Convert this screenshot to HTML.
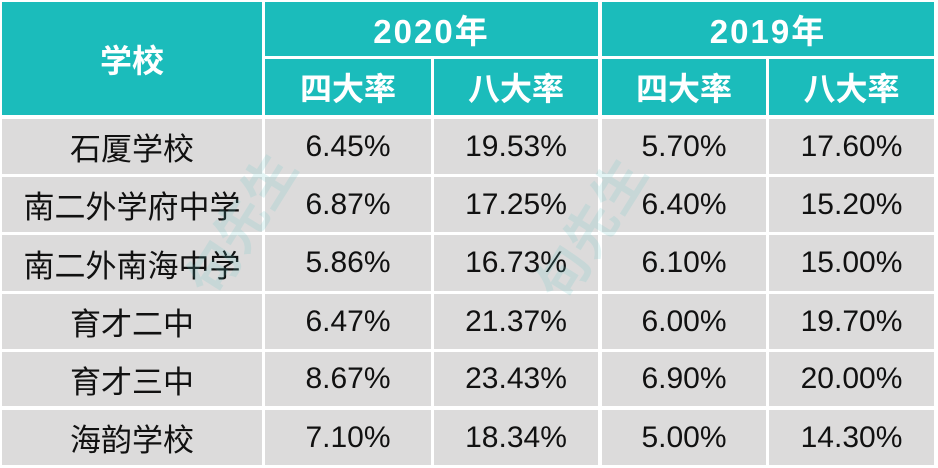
<!DOCTYPE html>
<html>
<head>
<meta charset="utf-8">
<style>
html,body{margin:0;padding:0;background:#fff;}
body{width:938px;height:468px;position:relative;overflow:hidden;font-family:"Liberation Sans","Noto Sans CJK SC",sans-serif;}
.c{position:absolute;display:flex;align-items:center;justify-content:center;box-sizing:border-box;}
.h{background:#1bbcbb;color:#fff;font-weight:bold;font-size:32px;font-family:"Liberation Sans","Noto Sans CJK SC",sans-serif;}
.y{letter-spacing:2px;font-size:33px;}
.d{background:#dcdbdb;color:#111;font-size:30px;}
.n{font-size:31px;}
.wm{position:absolute;color:#5cc8c8;opacity:0.16;font-size:52px;font-weight:bold;transform:rotate(-58deg);font-family:"Noto Sans CJK SC",sans-serif;white-space:nowrap;}
</style>
</head>
<body>
<!-- header -->
<div class="c h" style="left:2px;top:2px;width:260px;height:113px;">学校</div>
<div class="c h y" style="left:265px;top:2px;width:333px;height:54px;">2020年</div>
<div class="c h y" style="left:602px;top:2px;width:332px;height:54px;">2019年</div>
<div class="c h" style="left:265px;top:59px;width:166px;height:56px;">四大率</div>
<div class="c h" style="left:434px;top:59px;width:164px;height:56px;">八大率</div>
<div class="c h" style="left:602px;top:59px;width:164px;height:56px;">四大率</div>
<div class="c h" style="left:769px;top:59px;width:165px;height:56px;">八大率</div>

<!-- row 1 -->
<div class="c d n" style="left:2px;top:119px;width:260px;height:55px;">石厦学校</div>
<div class="c d" style="left:265px;top:119px;width:166px;height:55px;">6.45%</div>
<div class="c d" style="left:434px;top:119px;width:164px;height:55px;">19.53%</div>
<div class="c d" style="left:602px;top:119px;width:164px;height:55px;">5.70%</div>
<div class="c d" style="left:769px;top:119px;width:165px;height:55px;">17.60%</div>
<!-- row 2 -->
<div class="c d n" style="left:2px;top:177px;width:260px;height:55px;">南二外学府中学</div>
<div class="c d" style="left:265px;top:177px;width:166px;height:55px;">6.87%</div>
<div class="c d" style="left:434px;top:177px;width:164px;height:55px;">17.25%</div>
<div class="c d" style="left:602px;top:177px;width:164px;height:55px;">6.40%</div>
<div class="c d" style="left:769px;top:177px;width:165px;height:55px;">15.20%</div>
<!-- row 3 -->
<div class="c d n" style="left:2px;top:235px;width:260px;height:56px;">南二外南海中学</div>
<div class="c d" style="left:265px;top:235px;width:166px;height:56px;">5.86%</div>
<div class="c d" style="left:434px;top:235px;width:164px;height:56px;">16.73%</div>
<div class="c d" style="left:602px;top:235px;width:164px;height:56px;">6.10%</div>
<div class="c d" style="left:769px;top:235px;width:165px;height:56px;">15.00%</div>
<!-- row 4 -->
<div class="c d n" style="left:2px;top:294px;width:260px;height:55px;">育才二中</div>
<div class="c d" style="left:265px;top:294px;width:166px;height:55px;">6.47%</div>
<div class="c d" style="left:434px;top:294px;width:164px;height:55px;">21.37%</div>
<div class="c d" style="left:602px;top:294px;width:164px;height:55px;">6.00%</div>
<div class="c d" style="left:769px;top:294px;width:165px;height:55px;">19.70%</div>
<!-- row 5 -->
<div class="c d n" style="left:2px;top:352px;width:260px;height:54px;">育才三中</div>
<div class="c d" style="left:265px;top:352px;width:166px;height:54px;">8.67%</div>
<div class="c d" style="left:434px;top:352px;width:164px;height:54px;">23.43%</div>
<div class="c d" style="left:602px;top:352px;width:164px;height:54px;">6.90%</div>
<div class="c d" style="left:769px;top:352px;width:165px;height:54px;">20.00%</div>
<!-- row 6 -->
<div class="c d n" style="left:2px;top:410px;width:260px;height:55px;">海韵学校</div>
<div class="c d" style="left:265px;top:410px;width:166px;height:55px;">7.10%</div>
<div class="c d" style="left:434px;top:410px;width:164px;height:55px;">18.34%</div>
<div class="c d" style="left:602px;top:410px;width:164px;height:55px;">5.00%</div>
<div class="c d" style="left:769px;top:410px;width:165px;height:55px;">14.30%</div>

<!-- faint watermarks -->
<div class="wm" style="left:160px;top:185px;">句先生</div>
<div class="wm" style="left:510px;top:190px;">句先生</div>
</body>
</html>
